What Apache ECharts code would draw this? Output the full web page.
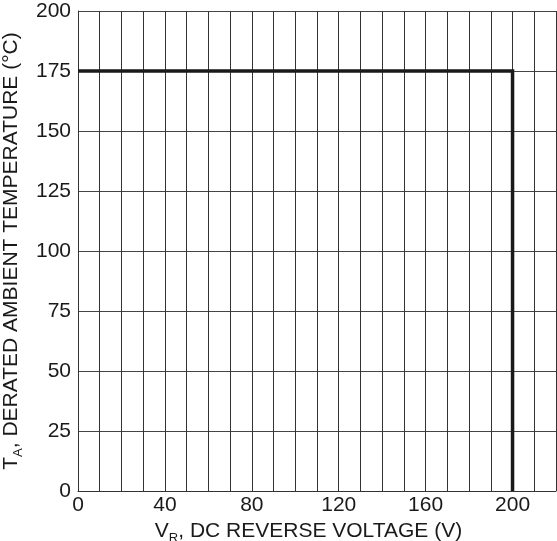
<!DOCTYPE html>
<html>
<head>
<meta charset="utf-8">
<script src="https://cdn.jsdelivr.net/npm/echarts@6/dist/echarts.min.js"></script>
<style>
html,body{margin:0;padding:0;background:#fff;}
#c{width:557px;height:541px;}
</style>
</head>
<body>
<div id="c"></div>
<script>
// Derating curve: voltage (V) vs derated ambient temperature (°C)
const voltage = [0, 200, 200];
const temperature = [175, 175, 0];
const xTickLabels = [0, 40, 80, 120, 160, 200];
const yTickLabels = [0, 25, 50, 75, 100, 125, 150, 175, 200];

const chart = echarts.init(document.getElementById('c'), null, {renderer: 'canvas'});
const font = 'Liberation Sans, Arial, sans-serif';
const richName = {
  n: {fontSize: 21, fontFamily: font, color: '#1a1a1a', lineHeight: 22, verticalAlign: 'top'},
  s: {fontSize: 13, fontFamily: font, color: '#1a1a1a', lineHeight: 14, padding: [11, 0, 0, 0], verticalAlign: 'top'}
};
chart.setOption({
  animation: false,
  backgroundColor: '#fff',
  grid: {left: 78, right: 1, top: 11, bottom: 50, outerBoundsMode: 'none', containLabel: false},
  xAxis: {
    type: 'value', min: 0, max: 220, interval: 10,
    name: '{n|V}{s|R}{n|, DC REVERSE VOLTAGE (V)}',
    nameLocation: 'middle', nameGap: 26,
    nameTextStyle: {rich: richName, padding: [0, 17, 0, 0]},
    axisLine: {show: true, lineStyle: {color: '#333', width: 1}},
    axisTick: {show: false},
    splitLine: {show: true, lineStyle: {color: '#333', width: 1}},
    axisLabel: {
      margin: 4, fontSize: 21, fontFamily: font, color: '#1a1a1a',
      formatter: v => xTickLabels.includes(v) ? String(v) : ''
    }
  },
  yAxis: {
    type: 'value', min: 0, max: 200, interval: 25,
    name: '{n|T}{s|A}{n|, DERATED AMBIENT TEMPERATURE (°C)}',
    nameLocation: 'middle', nameGap: 45, nameRotate: 90,
    nameTextStyle: {rich: richName},
    axisLine: {show: true, lineStyle: {color: '#333', width: 1}},
    axisTick: {show: false},
    splitLine: {show: true, lineStyle: {color: '#444', width: 1}},
    axisLabel: {
      margin: 7, fontSize: 21, fontFamily: font, color: '#1a1a1a',
      formatter: v => yTickLabels.includes(v) ? String(v) : ''
    }
  },
  series: [{
    type: 'line',
    data: voltage.map((v, i) => [v, temperature[i]]),
    symbol: 'none',
    lineStyle: {color: '#1a1a1a', width: 3.5, join: 'miter'},
    clip: false
  }]
});
</script>
</body>
</html>
